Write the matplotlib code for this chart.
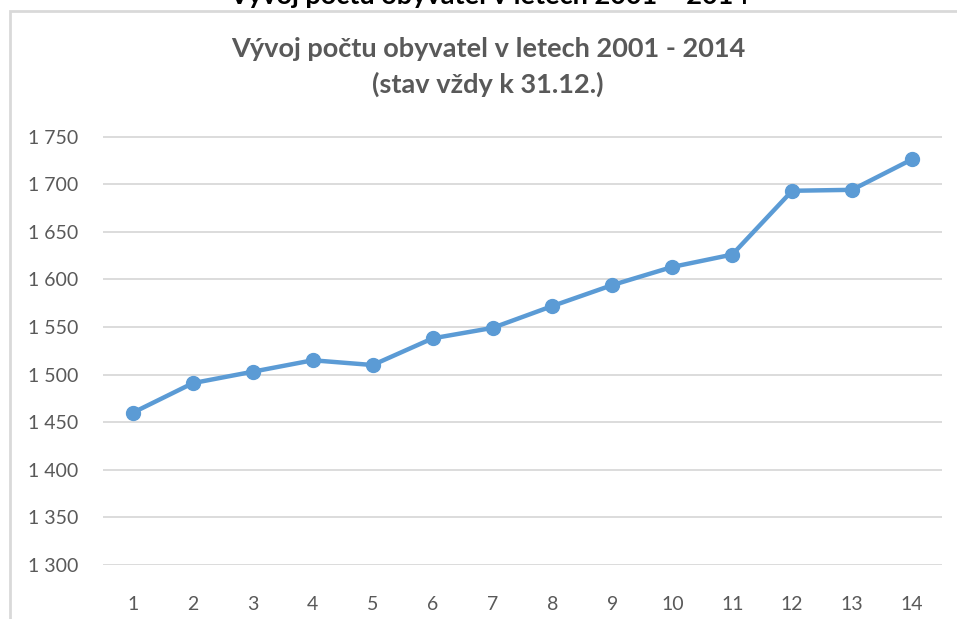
import matplotlib.pyplot as plt
from matplotlib.patches import Rectangle
from matplotlib.ticker import FuncFormatter

# population at 31.12. of each year (index 1 = 2001)
years_idx = list(range(1, 15))
population = [1460, 1491, 1503, 1515, 1510, 1538, 1549, 1572, 1594, 1613, 1626, 1693, 1694, 1726]
y_ticks = [1300, 1350, 1400, 1450, 1500, 1550, 1600, 1650, 1700, 1750]

title = "Vývoj počtu obyvatel v letech 2001 - 2014\n(stav vždy k 31.12.)"
page_title = "Vývoj počtu obyvatel v letech 2001 – 2014"

GRAY_TEXT = "#595959"
GRID = "#d9d9d9"
BLUE = "#5b9bd5"
FONT = "Lato"

W, H = 957, 619
fig = plt.figure(figsize=(W / 100, H / 100), dpi=100)
ax = fig.add_axes([103 / W, 1 - 565 / H, (942 - 103) / W, (565 - 136.5) / H])

ax.plot(years_idx, population, color=BLUE, lw=3.2, marker="o", ms=10,
        solid_joinstyle="round", clip_on=False, zorder=3)

ax.set_xlim(0.5, 14.5)
ax.set_ylim(1300, 1750)
ax.set_xticks(years_idx)
ax.set_yticks(y_ticks)
ax.yaxis.set_major_formatter(FuncFormatter(lambda v, p: f"{int(v):,}".replace(",", " ")))
ax.grid(axis="y", color=GRID, lw=1.3)
ax.set_axisbelow(True)
for s in ax.spines.values():
    s.set_visible(False)
ax.tick_params(length=0, labelcolor=GRAY_TEXT, labelsize=14)
ax.tick_params(axis="y", pad=18)
ax.tick_params(axis="x", pad=22)
for lab in ax.get_xticklabels() + ax.get_yticklabels():
    lab.set_fontfamily(FONT)

fig.text(488 / W, 1 - 67 / H, title, ha="center", va="center", color=GRAY_TEXT,
         fontsize=19.5, fontweight="bold", family=FONT, linespacing=1.5)

# page heading cut off at the top of the screenshot
fig.text(489 / W, 1 - 4 / H, page_title, ha="center", va="baseline", color="black",
         fontsize=19.5, fontweight="bold", family=FONT)

# chart frame
fig.add_artist(Rectangle((9.5 / W, -0.05), 1.2, 1.05 - 11 / H, transform=fig.transFigure,
                         fill=False, edgecolor=GRID, lw=2, clip_on=False))

fig.savefig("out.png", dpi=100)
